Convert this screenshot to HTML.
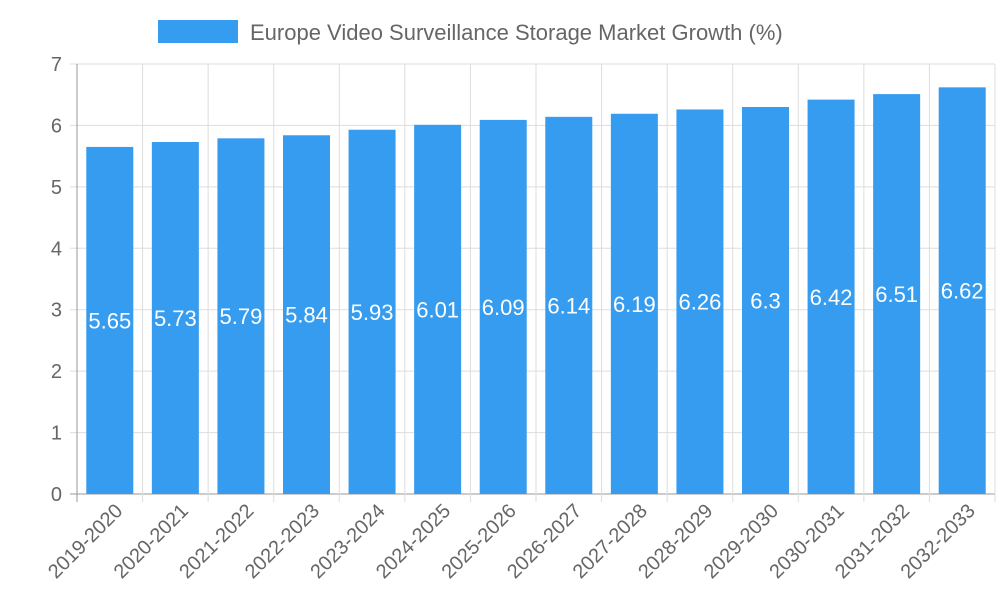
<!DOCTYPE html>
<html><head><meta charset="utf-8"><style>
body{margin:0;background:#fff;}
svg text{font-family:"Liberation Sans",sans-serif;}
</style></head><body>
<svg width="1000" height="600" xmlns="http://www.w3.org/2000/svg">
<g>
<rect x="158" y="20" width="80" height="23" fill="#369cf0"/>
<text x="250" y="40" font-size="22" fill="#666">Europe Video Surveillance Storage Market Growth (%)</text>
</g>
<g id="grid"></g><g id="bars"></g><g id="labels"></g>
</svg>
<script>
const categories=["2019-2020","2020-2021","2021-2022","2022-2023","2023-2024","2024-2025","2025-2026","2026-2027","2027-2028","2028-2029","2029-2030","2030-2031","2031-2032","2032-2033"];
const values=[5.65,5.73,5.79,5.84,5.93,6.01,6.09,6.14,6.19,6.26,6.3,6.42,6.51,6.62];
const yTicks=[0,1,2,3,4,5,6,7];
const NS="http://www.w3.org/2000/svg";
const L=77,R=995,T=64,B=494,YMAX=7;
const bw=(R-L)/categories.length;
const y=v=>B-(v/YMAX)*(B-T);
const x=i=>L+bw*i;
function mk(tag,attrs,parent,txt){const e=document.createElementNS(NS,tag);for(const k in attrs)e.setAttribute(k,attrs[k]);if(txt!==undefined)e.textContent=txt;parent.appendChild(e);return e;}
const g=document.getElementById('grid'),gb=document.getElementById('bars'),gl=document.getElementById('labels');
yTicks.forEach(t=>{
 const ln=mk('line',{x1:70,x2:R,y1:y(t),y2:y(t),stroke:t===0?'#999':'#ddd','stroke-width':1},g);
 
 
 const tx=mk('text',{x:62,y:y(t)+7,'font-size':20,fill:'#666','text-anchor':'end'},g,String(t));
 
 
});
for(let i=0;i<=categories.length;i++){
 const ln=mk('line',{x1:x(i),x2:x(i),y1:T,y2:B+8,stroke:i===0?'#999':'#ddd','stroke-width':1},g);
 
 
}
categories.forEach((c,i)=>{
 const cx=x(i)+bw/2,w=47;
 const r=mk('rect',{x:cx-w/2,y:y(values[i]),width:w,height:B-y(values[i]),fill:'#369cf0'},gb);
 
 
 const v=mk('text',{x:cx,y:(y(values[i])+B)/2+8,'font-size':22,fill:'#fff','text-anchor':'middle'},gl,String(values[i]));
 
 
 const xl=mk('text',{x:cx+14,y:512,'font-size':20,fill:'#666','text-anchor':'end',transform:`rotate(-45 ${cx+14} 512)`},gl,c);
 
 
});
</script>
</body></html>
